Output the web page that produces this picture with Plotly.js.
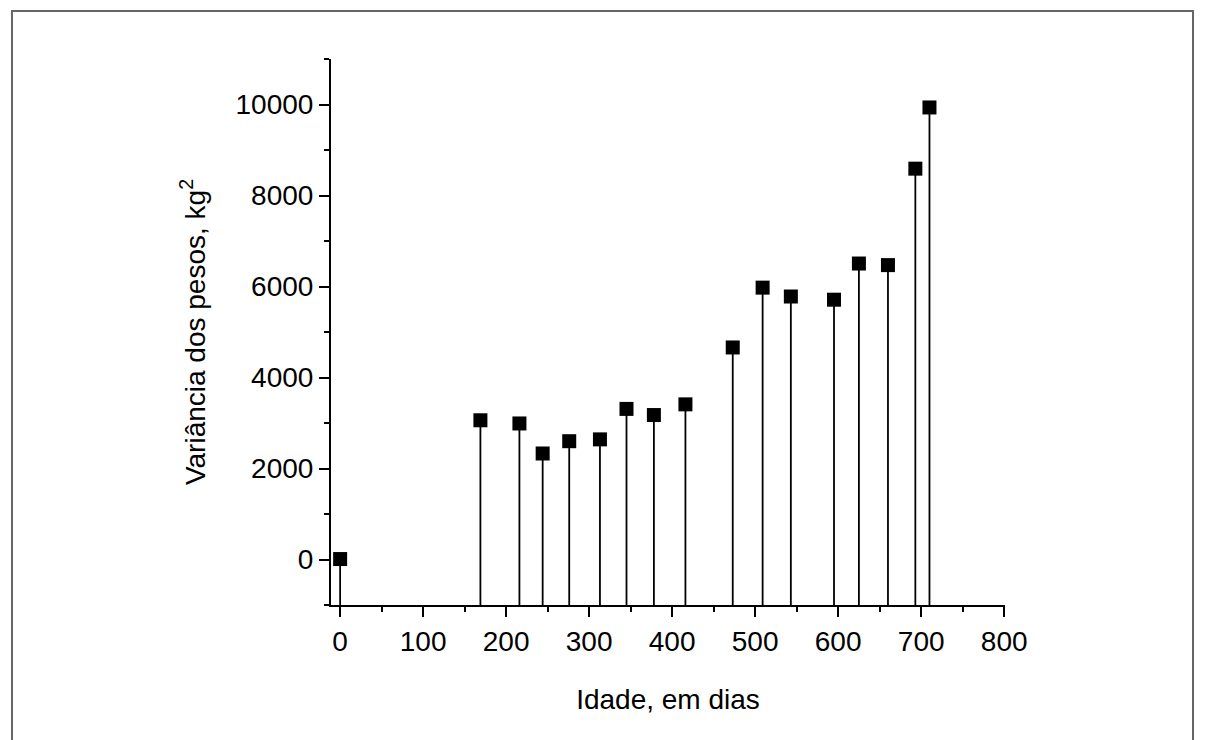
<!DOCTYPE html>
<html>
<head>
<meta charset="utf-8">
<script src="https://cdn.plot.ly/plotly-3.0.1.min.js"></script>
<style>
  html, body { margin: 0; padding: 0; background: #fff; overflow: hidden; }
  #wrap { position: relative; width: 1207px; height: 740px; }
  #chart { position: absolute; left: 0; top: 0; width: 1207px; height: 740px; }
  #frame { position: absolute; left: 11px; top: 10px; width: 1183px; height: 760px;
           border: 2px solid #666; box-sizing: border-box; pointer-events: none; }
</style>
</head>
<body>
<div id="wrap">
  <div id="chart"></div>
  <div id="frame"></div>
</div>
<script>
// Age in days
const ageDays = [0, 169, 216, 244, 276, 313, 345, 378, 416, 473, 509, 543, 595, 625, 660, 693, 710];
// Variance of weights, kg^2
const variance = [10, 3060, 2990, 2330, 2600, 2640, 3310, 3175, 3410, 4660, 5975, 5780, 5710, 6505, 6470, 8590, 9935];

const xTickVals = [0, 100, 200, 300, 400, 500, 600, 700, 800];
const yTickVals = [0, 2000, 4000, 6000, 8000, 10000];
const yFloor = -1000;

// stems from each point down to the bottom of the axis
const stemX = [], stemY = [];
ageDays.forEach((x, i) => { stemX.push(x, x, null); stemY.push(yFloor, variance[i], null); });

const font = "'Liberation Sans', Arial, Helvetica, sans-serif";

const traces = [
  { x: stemX, y: stemY, type: 'scatter', mode: 'lines',
    line: { color: '#000', width: 1.8 }, hoverinfo: 'skip', showlegend: false },
  { x: ageDays, y: variance, type: 'scatter', mode: 'markers',
    marker: { symbol: 'square', size: 14, color: '#000' }, showlegend: false }
];

const axisCommon = {
  showgrid: false, zeroline: false, showline: true, linecolor: '#000', linewidth: 2,
  ticks: 'outside', ticklen: 10, tickwidth: 2, tickcolor: '#000',
  tickfont: { family: font, size: 28, color: '#000' }, mirror: false
};

const layout = {
  width: 1207, height: 740,
  margin: { l: 331, r: 202, t: 59, b: 135 },
  paper_bgcolor: 'rgba(0,0,0,0)', plot_bgcolor: 'rgba(0,0,0,0)',
  xaxis: Object.assign({}, axisCommon, {
    range: [-11, 801], tickmode: 'array', tickvals: xTickVals, ticktext: xTickVals.map(String),
    minor: { dtick: 50, tick0: 0, ticks: 'outside', ticklen: 5, tickwidth: 2, tickcolor: '#000' },
    title: { text: 'Idade, em dias', font: { family: font, size: 28, color: '#000' }, standoff: 34 }
  }),
  yaxis: Object.assign({}, axisCommon, {
    range: [-1000, 11000], tickmode: 'array', tickvals: yTickVals, ticktext: yTickVals.map(String),
    minor: { dtick: 1000, tick0: 0, ticks: 'outside', ticklen: 5, tickwidth: 2, tickcolor: '#000' },
    title: { text: 'Variância dos pesos, kg<sup>2</sup>', font: { family: font, size: 28, color: '#000' }, standoff: 22 }
  })
};

Plotly.newPlot('chart', traces, layout, { displayModeBar: false, staticPlot: true });
</script>
</body>
</html>
